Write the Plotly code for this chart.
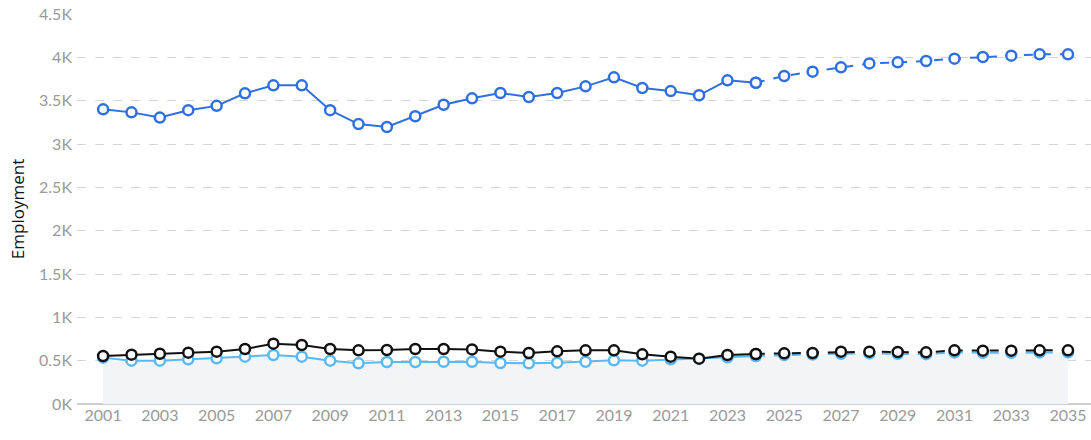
import plotly.graph_objects as go

years = list(range(2001, 2036))
last_actual = 2024

blue_vals = [3400, 3365, 3305, 3390, 3440, 3585, 3677, 3677, 3390, 3230, 3196, 3320,
             3453, 3527, 3588, 3542, 3588, 3665, 3769, 3646, 3611, 3562, 3735, 3707,
             3785, 3835, 3885, 3930, 3942, 3958, 3985, 4004, 4019, 4035, 4035]
black_vals = [554, 569, 580, 592, 604, 635, 696, 681, 635, 619, 623, 635,
              635, 630, 604, 588, 608, 619, 619, 573, 546, 523, 565, 577,
              585, 588, 604, 604, 600, 596, 619, 615, 615, 619, 619]
light_vals = [535, 500, 500, 515, 527, 546, 565, 546, 500, 469, 485, 485,
              488, 488, 473, 469, 477, 488, 504, 500, 515, 523, 538, 554,
              565, 570, 580, 585, 580, 575, 595, 590, 590, 595, 595]

y_ticks = [0, 500, 1000, 1500, 2000, 2500, 3000, 3500, 4000, 4500]
y_tick_text = ["0K", "0.5K", "1K", "1.5K", "2K", "2.5K", "3K", "3.5K", "4K", "4.5K"]
x_ticks = list(range(2001, 2036, 2))

BLUE = "#2f6fe4"
LIGHT = "#5ab8f5"
BLACK = "#111111"

fig = go.Figure()

fig.add_trace(go.Scatter(x=years, y=light_vals, mode="none", fill="tozeroy",
                         fillcolor="#f3f4f6", hoverinfo="skip", showlegend=False))

idx = years.index(last_actual)

def add_series(vals, color):
    for seg, dash in ((slice(0, idx + 1), "solid"), (slice(idx, None), "dash")):
        fig.add_trace(go.Scatter(
            x=years[seg], y=vals[seg], mode="lines+markers",
            line=dict(color=color, width=2, dash=dash),
            marker=dict(symbol="circle", size=10, color="white",
                        line=dict(color=color, width=2.5)),
            showlegend=False))

add_series(light_vals, LIGHT)
add_series(black_vals, BLACK)
add_series(blue_vals, BLUE)

fig.update_layout(
    width=1091, height=440,
    margin=dict(l=77, r=0, t=14, b=36),
    paper_bgcolor="white", plot_bgcolor="white",
    font=dict(family="Lato, Open Sans, sans-serif", size=16, color="#9a9a9a"),
    showlegend=False,
)
fig.update_xaxes(range=[2000.08, 2035.81], tickvals=x_ticks, showgrid=False,
                 zeroline=False, showline=False, ticks="",
                 tickfont=dict(size=16, color="#9a9a9a"))
fig.update_yaxes(range=[0, 4500], tickvals=y_ticks, ticktext=y_tick_text,
                 showgrid=True, gridcolor="#d5d5d5", griddash="dash", gridwidth=1,
                 zeroline=True, zerolinecolor="#cfcfcf", zerolinewidth=1.5,
                 showline=False, ticks="", ticklabelstandoff=4,
                 tickfont=dict(size=16, color="#9a9a9a"),
                 title=dict(text="Employment",
                            font=dict(family="Open Sans, sans-serif", size=17, color="#111111"),
                            standoff=10))

fig.write_html("out.html", config={"displayModeBar": False},
               post_script="document.body.style.margin='0';document.body.style.overflow='hidden';")
